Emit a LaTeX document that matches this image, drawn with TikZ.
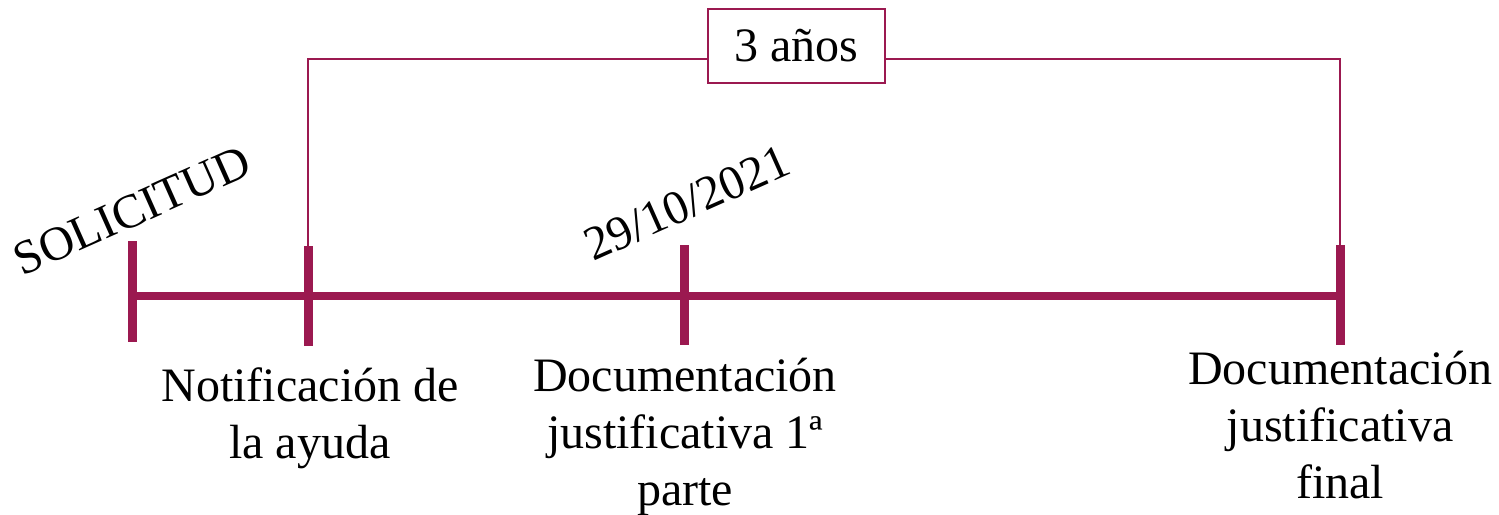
\documentclass[tikz,border=0pt]{standalone}
\usepackage{fontspec}
\setmainfont{Liberation Serif}
\usetikzlibrary{calc}
\definecolor{vino}{RGB}{155,25,80}
\tikzset{every picture/.style={line width=0.75pt}}

\begin{document}
\begin{tikzpicture}[x=0.75pt,y=0.75pt,yscale=-1,xscale=1,
  eje/.style={draw=vino,line width=6pt},
  marca/.style={draw=vino,line width=6.75pt},
  llave/.style={draw=vino,line width=1.8pt},
  rotulo/.style={font=\fontsize{36}{42.75}\selectfont,align=center,inner sep=0pt},
  caja/.style={draw=vino,line width=1.5pt,fill=white,minimum width=132.75pt,minimum height=55.5pt,font=\fontsize{36}{42.75}\selectfont}]
\useasboundingbox (0,0) rectangle (1499,514);

%Axis points
\coordinate (solicitud) at (132,296);
\coordinate (notif) at (308,296);
\coordinate (doc1) at (684,296);
\coordinate (docfin) at (1340,296);

%Shape: Axis
\draw[eje] (solicitud) -- (docfin);

%Shape: Ticks
\draw[marca] ($(solicitud)+(0,-55)$) -- ($(solicitud)+(0,46)$);
\draw[marca] ($(notif)+(0,-50)$) -- ($(notif)+(0,50)$);
\draw[marca] ($(doc1)+(0,-51)$) -- ($(doc1)+(0,49)$);
\draw[marca] ($(docfin)+(0,-51)$) -- ($(docfin)+(0,49)$);

%Shape: Bracket
\coordinate (izq) at ($(notif)+(0,-50)$);
\coordinate (der) at ($(docfin)+(0,-51)$);
\coordinate (arriba) at (0,59);
\node[caja] (plazo) at (796.5,46) {3 años};
\draw[llave] (izq) |- (plazo.west |- arriba);
\draw[llave] (plazo.east |- arriba) -| (der);

%Text nodes: rotated
\node[rotulo,rotate=24] (txtsol) at (132,211) {SOLICITUD};
\node[rotulo,rotate=24] (txtfecha) at (687,203) {29/10/2021};

%Text nodes: below (base = last line)
\node[rotulo,anchor=base] (txtnotif) at (310,458) {Notificación de\\la ayuda};
\node[rotulo,anchor=base] (txtdoc1) at (685,505) {Documentación\\justificativa 1ª\\parte};
\node[rotulo,anchor=base] (txtfin) at (1340,498) {Documentación\\justificativa\\final};

\end{tikzpicture}
\end{document}
